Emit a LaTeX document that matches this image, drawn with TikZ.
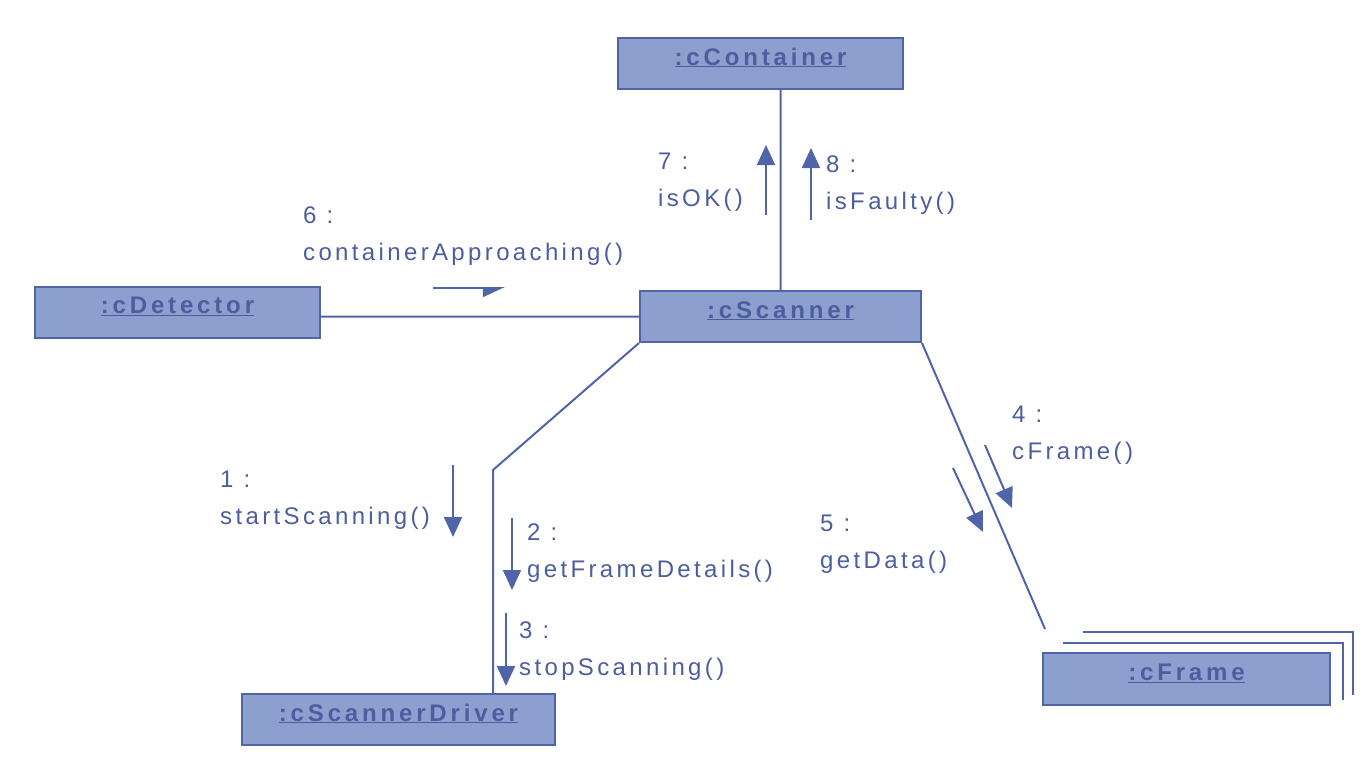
\documentclass[tikz,border=0pt]{standalone}
\usepackage{fontspec}
\setmainfont{Liberation Sans}
\newfontfamily\msgfont[LetterSpace=14]{Liberation Sans}
\newfontfamily\objfont[LetterSpace=16]{Liberation Sans}
\usetikzlibrary{arrows.meta}
\definecolor{umlfill}{RGB}{141,159,206}
\definecolor{umlline}{RGB}{80,100,168}
\definecolor{umltext}{RGB}{76,94,158}
\tikzset{
  obj/.style={draw=umlline, line width=2pt, fill=umlfill, text=umltext,
    font=\objfont\bfseries\fontsize{24}{28}\selectfont,
    inner xsep=0pt, inner ysep=10pt, text height=17pt, text depth=14pt},
  link/.style={draw=umlline, line width=2pt},
  msg/.style={draw=umlline, line width=2pt, -{Triangle[width=18pt,length=20pt]}},
  lbl/.style={text=umltext, font=\msgfont\fontsize{24}{37}\selectfont,
    align=left, anchor=base west, inner sep=0pt},
}
\begin{document}
\begin{tikzpicture}[x=1pt, y=-1pt]
  \useasboundingbox (0,0) rectangle (1363,758);
  % objects
  \node (cont) [obj, minimum width=285pt, minimum height=51pt] at (760.5,63.5) {\underline{:cContainer}};
  \node (det)  [obj, minimum width=285pt, minimum height=50pt] at (177.5,312) {\underline{:cDetector}};
  \node (scan) [obj, minimum width=281pt, minimum height=49pt] at (780.5,316.5) {\underline{:cScanner}};
  \node (drv)  [obj, minimum width=313pt, minimum height=49pt] at (398.5,719.5) {\underline{:cScannerDriver}};
  \draw [link] (1083,632) -| (1353,695)
               (1063,643) -| (1343,700);
  \node (frm)  [obj, minimum width=287pt, minimum height=52pt] at (1186.5,679) {\underline{:cFrame}};
  % links
  \coordinate (bend) at (493,470);
  \coordinate (frmend) at (1045,629);
  \draw [link] (scan.north) -- (scan.north |- cont.south)
               (scan.west) -- (scan.west -| det.east)
               (scan.south west) -- (bend) -- (bend |- drv.north)
               (scan.south east) -- (frmend);
  % messages
  \draw [msg] (453,465) -- (453,537);
  \draw [msg] (512,518) -- (512,590);
  \draw [msg] (506,613) -- (506,686);
  \draw [msg] (985,445) -- (1012,508);
  \draw [msg] (953,468) -- (983,532);
  \draw [msg, -{Triangle[width=18pt,length=20pt,harpoon,swap]}] (433,288) -- (505,288);
  \draw [msg] (766,215) -- (766,145);
  \draw [msg] (811,220) -- (811,148);
  \node (l1) [lbl] at (220,524) {1 :\\startScanning()};
  \node (l2) [lbl] at (527,577) {2 :\\getFrameDetails()};
  \node (l3) [lbl] at (519,675) {3 :\\stopScanning()};
  \node (l4) [lbl] at (1012,459) {4 :\\cFrame()};
  \node (l5) [lbl] at (820,568) {5 :\\getData()};
  \node (l6) [lbl] at (303,260) {6 :\\containerApproaching()};
  \node (l7) [lbl] at (658,206) {7 :\\isOK()};
  \node (l8) [lbl] at (826,209) {8 :\\isFaulty()};
\end{tikzpicture}
\end{document}
